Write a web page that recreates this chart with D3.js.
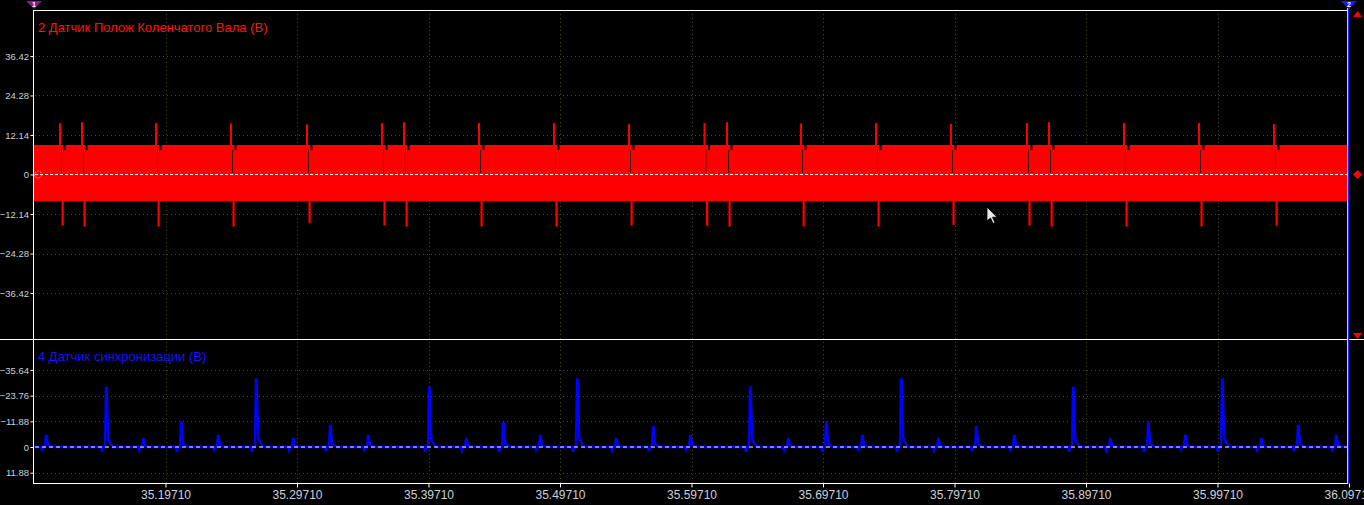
<!DOCTYPE html>
<html><head><meta charset="utf-8">
<script src="https://cdn.jsdelivr.net/npm/d3@7/dist/d3.min.js"></script>
<style>html,body{margin:0;padding:0;background:#000;overflow:hidden}svg{display:block}</style>
</head><body>
<svg id="chart" width="1364" height="505"></svg>
<script>
// ---------- data ----------
const timeDomain = [35.0971, 36.0971];
const xTickValues = [35.1971, 35.2971, 35.3971, 35.4971, 35.5971, 35.6971, 35.7971, 35.8971, 35.9971, 36.0971];
const crankTickValues = [36.42, 24.28, 12.14, 0, -12.14, -24.28, -36.42];
const syncTickValues = [-35.64, -23.76, -11.88, 0, 11.88];
const crankTitle = "2 Датчик Полож Коленчатого Вала (В)";
const syncTitle = "4 Датчик синхронизации (В)";

// crankshaft sensor: oscillation envelope + gap events
const crankBandTop = 9.07;
const crankBandBottom = -8.24;
const crankNotchTop = 7.5;
const crankEventTimes = [35.1169, 35.1336, 35.1899, 35.2469, 35.3047, 35.3617, 35.3785, 35.4355, 35.4925, 35.5496,
  35.6070, 35.6241, 35.6804, 35.7374, 35.7944, 35.8522, 35.8690, 35.9260, 35.9830, 36.0401];
const crankPeakUp = [15.7, 16.1, 15.8, 15.7, 15.4, 15.8, 16.1, 15.8, 15.8, 15.5,
  15.8, 16.1, 15.7, 15.8, 15.5, 15.8, 16.1, 15.8, 15.8, 15.5];
const crankPeakDown = [-15.7, -16.0, -16.0, -16.0, -15.0, -15.7, -16.0, -16.0, -16.0, -15.7,
  -15.7, -16.0, -16.0, -16.0, -15.5, -15.7, -16.0, -16.0, -16.0, -15.7];

// synchronisation sensor: pulses (negative = up on inverted axis)
const syncEventTimes = [35.1062, 35.1519, 35.1800, 35.2089, 35.2370, 35.2659, 35.2941, 35.3222, 35.3511,
  35.3975, 35.4256, 35.4538, 35.4819, 35.5100, 35.5397, 35.5678, 35.5960,
  35.6416, 35.6705, 35.6994, 35.7268, 35.7564, 35.7846, 35.8135, 35.8424,
  35.8872, 35.9154, 35.9443, 35.9724, 36.0005, 36.0302, 36.0583, 36.0872];
const syncPeaks = [-5.1, -27.3, -3.6, -11.2, -5.1, -31.3, -3.6, -9.7, -5.1,
  -27.3, -3.6, -11.0, -5.1, -31.3, -3.6, -9.3, -5.1,
  -27.5, -3.6, -11.2, -5.1, -31.3, -3.6, -9.3, -5.1,
  -27.3, -3.6, -11.2, -5.1, -31.3, -3.6, -9.7, -5.1];
const syncDips = [1.2, 2.2, 1.5, 2.2, 1.2, 2.2, 1.5, 2.0, 1.2,
  2.2, 1.5, 2.2, 1.2, 2.2, 1.5, 2.0, 1.2,
  2.2, 1.5, 2.2, 1.2, 2.2, 1.5, 2.0, 1.2,
  2.2, 1.5, 2.2, 1.2, 2.2, 1.5, 2.0, 1.2];

// ---------- layout ----------
const W = 1364, H = 505;
const L = 34, R = 1349;
const topY0 = 10, splitY = 340, botY1 = 484;
const svg = d3.select("#chart");
svg.append("rect").attr("width", W).attr("height", H).attr("fill", "#000");

const x = d3.scaleLinear().domain(timeDomain).range([L, R]);
const yTop = d3.scaleLinear().domain([-50.86, 50.55]).range([splitY, topY0]);
const yBot = d3.scaleLinear().domain([-49.5, 17.1]).range([splitY, botY1]);

const gridColor = "#4a4a1c";
const labelColor = "#c9d1dc";

// grid
const grid = svg.append("g").attr("stroke", gridColor).attr("stroke-width", 1).attr("stroke-dasharray", "1,3");
crankTickValues.filter(v => v !== 0).forEach(v => {
  grid.append("line").attr("x1", L + 1).attr("x2", R - 2).attr("y1", Math.round(yTop(v)) + 0.5).attr("y2", Math.round(yTop(v)) + 0.5);
});
syncTickValues.filter(v => v !== 0).forEach(v => {
  grid.append("line").attr("x1", L + 1).attr("x2", R - 2).attr("y1", Math.round(yBot(v)) + 0.5).attr("y2", Math.round(yBot(v)) + 0.5);
});
xTickValues.filter(v => x(v) < R - 2).forEach(v => {
  const px = Math.round(x(v)) + 0.5;
  grid.append("line").attr("x1", px).attr("x2", px).attr("y1", 14).attr("y2", splitY);
  grid.append("line").attr("x1", px).attr("x2", px).attr("y1", splitY + 2).attr("y2", botY1);
});

// ---------- crank series ----------
const crank = svg.append("g");
crank.append("rect")
  .attr("x", x(timeDomain[0])).attr("width", x(timeDomain[1]) - x(timeDomain[0]) - 1)
  .attr("y", yTop(crankBandTop)).attr("height", yTop(crankBandBottom) - yTop(crankBandTop))
  .attr("fill", "#ff0000");
crankEventTimes.forEach((t, i) => {
  const X = x(t);
  // short gap where the missing teeth are
  crank.append("rect").attr("x", X + 1).attr("width", 0.8)
    .attr("y", yTop(crankNotchTop)).attr("height", yTop(0.5) - yTop(crankNotchTop)).attr("fill", "#000");
  crank.append("rect").attr("x", X + 3.5).attr("width", 2)
    .attr("y", yTop(crankBandTop)).attr("height", yTop(crankNotchTop) - yTop(crankBandTop)).attr("fill", "#000");
  // up spike
  crank.append("rect").attr("x", X - 1).attr("width", 2)
    .attr("y", yTop(crankPeakUp[i])).attr("height", yTop(0) - yTop(crankPeakUp[i])).attr("fill", "#ff0000");
  // down spike
  crank.append("rect").attr("x", X + 1.5).attr("width", 2.2)
    .attr("y", yTop(-1)).attr("height", yTop(crankPeakDown[i]) - yTop(-1)).attr("fill", "#ff0000");
});

// ---------- sync series ----------
const syncPts = [[timeDomain[0], 0]];
const pxT = 1 / (R - L); // one pixel expressed in seconds
syncEventTimes.forEach((t, i) => {
  const p = syncPeaks[i];
  syncPts.push([t - 5 * pxT, 0], [t - 4 * pxT, syncDips[i]], [t - 3 * pxT, 0], [t - 1 * pxT, 0],
    [t, p], [t + 0.6 * pxT, p], [t + 1.2 * pxT, p * 0.62], [t + 2.2 * pxT, p * 0.14],
    [t + 4 * pxT, p * 0.07], [t + 7 * pxT, 0]);
});
syncPts.push([timeDomain[1] - pxT, 0]);
svg.append("path").datum(syncPts)
  .attr("d", d3.line().x(d => x(d[0])).y(d => yBot(d[1])))
  .attr("fill", "none").attr("stroke", "#0000ff").attr("stroke-width", 2.4).attr("stroke-linejoin", "miter");

// zero lines
svg.append("line").attr("x1", L + 1).attr("x2", R - 2).attr("y1", yTop(0)).attr("y2", yTop(0))
  .attr("stroke", "#fff").attr("stroke-dasharray", "3,2");
svg.append("line").attr("x1", L + 1).attr("x2", R - 2).attr("y1", yBot(0)).attr("y2", yBot(0))
  .attr("stroke", "#fff").attr("stroke-dasharray", "4,3");
// zero marker circle
svg.append("circle").attr("cx", L + 4).attr("cy", yTop(0)).attr("r", 3.5)
  .attr("fill", "none").attr("stroke", "#ff9a9a").attr("stroke-width", 1).attr("stroke-dasharray", "2,1");

// ---------- frame ----------
const frame = svg.append("g").attr("stroke", "#fff").attr("stroke-width", 1);
frame.append("line").attr("x1", L).attr("x2", R - 1).attr("y1", topY0 + 0.5).attr("y2", topY0 + 0.5);
frame.append("line").attr("x1", 0).attr("x2", W).attr("y1", splitY - 0.5).attr("y2", splitY - 0.5);
frame.append("line").attr("x1", L - 0.5).attr("x2", L - 0.5).attr("y1", topY0).attr("y2", botY1);
frame.append("line").attr("x1", L).attr("x2", R).attr("y1", botY1 - 0.5).attr("y2", botY1 - 0.5);
frame.append("line").attr("x1", R - 1.5).attr("x2", R - 1.5).attr("y1", 8).attr("y2", botY1);
svg.append("line").attr("x1", R - 0.5).attr("x2", R - 0.5).attr("y1", 6).attr("y2", botY1)
  .attr("stroke", "#2020ff").attr("stroke-width", 1.5);

// ---------- axes ----------
const fmtY = d => d === 0 ? "0" : d3.format(".2f")(d);
const axTop = svg.append("g").attr("transform", `translate(${L - 0.5},0)`)
  .call(d3.axisLeft(yTop).tickValues(crankTickValues).tickSize(3).tickPadding(1.5).tickFormat(fmtY));
const axBot = svg.append("g").attr("transform", `translate(${L - 0.5},0)`)
  .call(d3.axisLeft(yBot).tickValues(syncTickValues).tickSize(3).tickPadding(1.5).tickFormat(fmtY));
const axX = svg.append("g").attr("transform", `translate(0,${botY1 - 0.5})`)
  .call(d3.axisBottom(x).tickValues(xTickValues).tickSize(4).tickPadding(3).tickFormat(d3.format(".5f")));
[axTop, axBot, axX].forEach(a => {
  a.select(".domain").remove();
  a.selectAll(".tick line").attr("stroke", "#fff");
  a.selectAll(".tick text").attr("fill", labelColor).attr("font-family", "Liberation Sans, Arial, sans-serif");
});
axTop.selectAll(".tick text").attr("font-size", 9.5);
axBot.selectAll(".tick text").attr("font-size", 9.5);
axX.selectAll(".tick text").attr("font-size", 12);

// ---------- titles ----------
svg.append("text").attr("x", 38).attr("y", 32).text(crankTitle)
  .attr("fill", "#ff1010").attr("font-size", 13).attr("font-family", "Liberation Sans, Arial, sans-serif");
svg.append("text").attr("x", 38).attr("y", 361).text(syncTitle)
  .attr("fill", "#1414ff").attr("font-size", 13).attr("font-family", "Liberation Sans, Arial, sans-serif");

// ---------- markers ----------
svg.append("path").attr("d", `M${L - 8},1 L${L + 8},1 L${L},9 Z`).attr("fill", "#7d1f8c");
svg.append("text").attr("x", L).attr("y", 7).attr("text-anchor", "middle").text("1")
  .attr("fill", "#fff").attr("font-size", 7).attr("font-weight", "bold").attr("font-family", "Liberation Sans, Arial, sans-serif");
svg.append("path").attr("d", `M${R - 8},1 L${R + 8},1 L${R},9 Z`).attr("fill", "#1a1aff");
svg.append("text").attr("x", R).attr("y", 7).attr("text-anchor", "middle").text("2")
  .attr("fill", "#fff").attr("font-size", 7).attr("font-weight", "bold").attr("font-family", "Liberation Sans, Arial, sans-serif");
const mx = 1357.5;
svg.append("path").attr("d", `M${mx - 4.5},17 L${mx + 4.5},17 L${mx},11 Z`).attr("fill", "#ff0000");
svg.append("path").attr("d", `M${mx},${yTop(0) - 4.5} L${mx + 4.5},${yTop(0)} L${mx},${yTop(0) + 4.5} L${mx - 4.5},${yTop(0)} Z`).attr("fill", "#ff0000");
svg.append("path").attr("d", `M${mx - 4.5},333 L${mx + 4.5},333 L${mx},339 Z`).attr("fill", "#ff0000");

// mouse cursor
svg.append("path").attr("transform", "translate(987,207)")
  .attr("d", "M0,0 L0,14 L3.5,11 L6,16.5 L8,15.5 L5.5,10.2 L10,10.2 Z")
  .attr("fill", "#e8e8e8").attr("stroke", "#000").attr("stroke-width", 0.8);
</script>
</body></html>
